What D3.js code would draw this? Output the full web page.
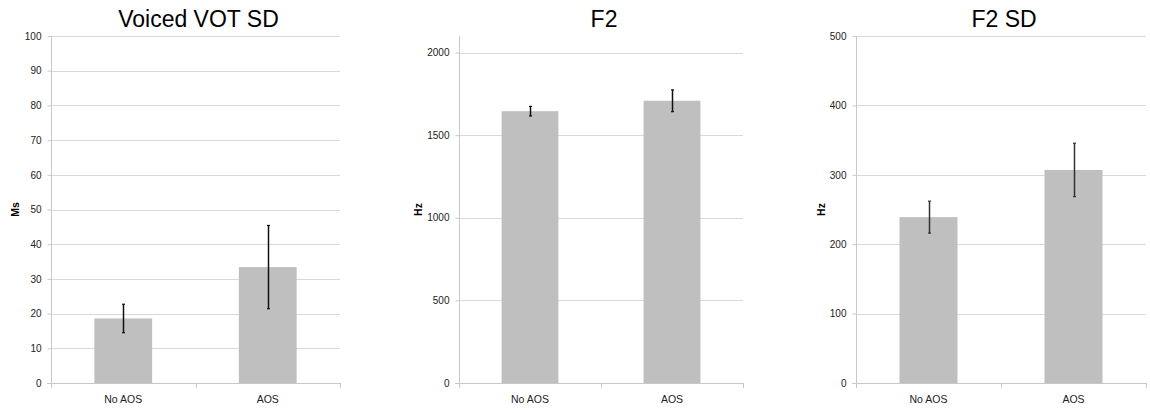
<!DOCTYPE html>
<html><head><meta charset="utf-8">
<script src="https://cdn.jsdelivr.net/npm/d3@7"></script>
<style>
body{margin:0;background:#fff;}
svg{display:block;}
</style></head>
<body>
<svg id="c" width="1150" height="413"></svg>
<script>
const categories = ["No AOS", "AOS"];
const titles = ["Voiced VOT SD", "F2", "F2 SD"];
const yLabels = ["Ms", "Hz", "Hz"];
const votValues = [18.6, 33.4];
const votErrors = [4.1, 12.0];
const f2Values = [1645, 1708];
const f2Errors = [29, 66];
const f2sdValues = [239, 307];
const f2sdErrors = [23, 38.5];
const votTicks = [0,10,20,30,40,50,60,70,80,90,100];
const f2Ticks = [0,500,1000,1500,2000];
const f2sdTicks = [0,100,200,300,400,500];
const yMax = [100, 2100, 500];

const panels = [
  {title: titles[0], ylab: yLabels[0], values: votValues, errors: votErrors, ticks: votTicks, max: yMax[0], x0: 51, x1: 340, labX: 15, eb: "#111"},
  {title: titles[1], ylab: yLabels[1], values: f2Values, errors: f2Errors, ticks: f2Ticks, max: yMax[1], x0: 459, x1: 743, labX: 418, eb: "#111"},
  {title: titles[2], ylab: yLabels[2], values: f2sdValues, errors: f2sdErrors, ticks: f2sdTicks, max: yMax[2], x0: 856, x1: 1146, labX: 821, eb: "#333"}
];
const plotTop = 36, plotBottom = 383;
const svg = d3.select("#c");
const font = "'Liberation Sans', Arial, sans-serif";
const textCol = "#222";

panels.forEach(p => {
  const g = svg.append("g");
  const x = d3.scaleBand().domain(categories).range([p.x0, p.x1]).paddingInner(0.6).paddingOuter(0.3);
  const y = d3.scaleLinear().domain([0, p.max]).range([plotBottom, plotTop]);

  // gridlines
  g.selectAll("line.grid").data(p.ticks.filter(t => t > 0)).enter().append("line")
    .attr("x1", p.x0).attr("x2", p.x1)
    .attr("y1", d => Math.round(y(d)) + 0.5).attr("y2", d => Math.round(y(d)) + 0.5)
    .attr("stroke", "#d9d9d9").attr("stroke-width", 1);

  // y axis
  const ya = d3.axisLeft(y).tickValues(p.ticks).tickSize(4).tickPadding(6).tickFormat(d3.format("d"));
  const yg = g.append("g").attr("transform", `translate(${p.x0 + 0.5},0)`).call(ya);
  yg.select(".domain").attr("stroke", "#c8c8c8").attr("d", `M0,${plotTop}V${plotBottom}`);
  yg.selectAll(".tick line").attr("stroke", "#c8c8c8");
  yg.selectAll(".tick text").attr("fill", textCol).style("font-family", font).style("font-size", "10px");

  // bars
  g.selectAll("rect").data(p.values).enter().append("rect")
    .attr("x", (d, i) => x(categories[i]))
    .attr("width", x.bandwidth())
    .attr("y", d => y(d))
    .attr("height", d => plotBottom - y(d))
    .attr("fill", "#bfbfbf");

  // x axis
  const step = x.step();
  const bounds = [p.x0, p.x0 + step, p.x1];
  g.append("line").attr("x1", p.x0 - 4).attr("x2", p.x1).attr("y1", plotBottom + 0.5).attr("y2", plotBottom + 0.5)
    .attr("stroke", "#c8c8c8");
  g.selectAll("line.xt").data(bounds).enter().append("line")
    .attr("x1", d => Math.round(d) + 0.5).attr("x2", d => Math.round(d) + 0.5)
    .attr("y1", plotBottom).attr("y2", plotBottom + 5).attr("stroke", "#c8c8c8");
  g.selectAll("text.xl").data(categories).enter().append("text")
    .attr("x", d => x(d) + x.bandwidth() / 2).attr("y", 403)
    .attr("text-anchor", "middle").attr("fill", textCol)
    .style("font-family", font).style("font-size", "10.5px").text(d => d);

  // error bars
  p.values.forEach((v, i) => {
    const cx = Math.round(x(categories[i]) + x.bandwidth() / 2) + 0.5;
    const hi = y(v + p.errors[i]), lo = y(v - p.errors[i]);
    g.append("line").attr("x1", cx).attr("x2", cx).attr("y1", hi).attr("y2", lo).attr("stroke", p.eb).attr("stroke-width", 1.5);
    [hi, lo].forEach(yy => g.append("line").attr("x1", cx - 1.5).attr("x2", cx + 1.5).attr("y1", yy).attr("y2", yy).attr("stroke", p.eb).attr("stroke-width", 1.2));
  });

  // title
  g.append("text").attr("x", (p.x0 + p.x1) / 2 + 3).attr("y", 27)
    .attr("text-anchor", "middle").attr("fill", "#000")
    .style("font-family", font).style("font-size", "23px").text(p.title);

  // y label
  g.append("text").attr("transform", `translate(${p.labX + 4},${(plotTop + plotBottom) / 2}) rotate(-90)`)
    .attr("text-anchor", "middle").attr("fill", "#000").attr("font-weight", "bold")
    .style("font-family", font).style("font-size", "10.5px").text(p.ylab);
});
</script>
</body></html>
